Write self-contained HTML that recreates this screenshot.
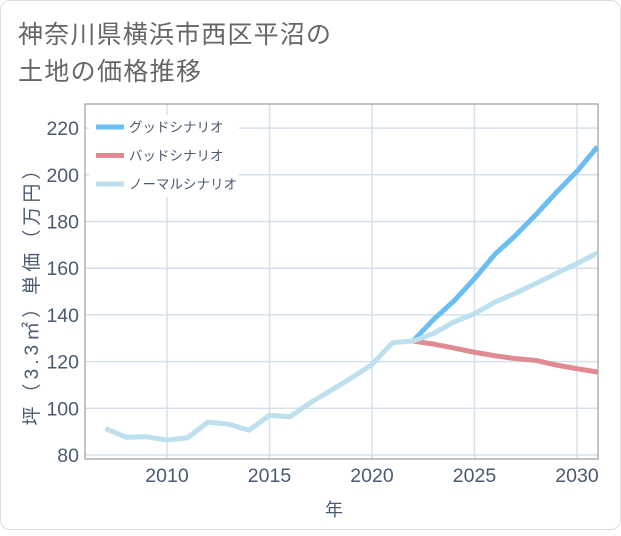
<!DOCTYPE html>
<html><head><meta charset="utf-8"><style>
body{margin:0;background:#fff;}
#wrap{position:absolute;left:0;top:0;width:619px;height:528px;border:1px solid #ddd;border-radius:10px;background:#fff;font-family:"Liberation Sans","Noto Sans CJK JP",sans-serif;}
svg text{font-family:"Liberation Sans","Noto Sans CJK JP",sans-serif;}
</style></head><body>
<div id="wrap">
<svg id="chart" width="621" height="530">
<text x="17" y="42" font-size="25" textLength="313" fill="#666">神奈川県横浜市西区平沼の</text>
<text x="17" y="79" font-size="25" textLength="183" fill="#666">土地の価格推移</text>
<g id="grid"></g><g id="axes"></g><g id="series"></g><g id="legend"></g>
<text x="333" y="515" font-size="18" fill="#4a5a70" text-anchor="middle">年</text>
<text transform="translate(37,292) rotate(-90)" font-size="19" textLength="265" fill="#4a5a70" text-anchor="middle">坪（3.3㎡）単価（万円）</text>
</svg></div>
<script>
const years=[2007,2008,2009,2010,2011,2012,2013,2014,2015,2016,2017,2018,2019,2020,2021,2022];
const history=[91.3,87.6,87.8,86.4,87.4,94.1,93.2,90.6,97,96.4,102.4,107.7,113,118.8,128.1,128.8];
const futureYears=[2022,2023,2024,2025,2026,2027,2028,2029,2030,2031];
const good=[128.8,138,146,155.5,166,174,183,192.5,201.5,212];
const bad=[128.8,127.5,125.8,124,122.5,121.3,120.5,118.5,117,115.5];
const normal=[128.8,132,137,140.5,145.5,149.3,153.5,157.8,162,166.5];
const yTicks=[80,100,120,140,160,180,200,220];
const xTicks=[2010,2015,2020,2025,2030];
const legendLabels=["グッドシナリオ","バッドシナリオ","ノーマルシナリオ"];
const NS="http://www.w3.org/2000/svg";
const L=84,R=597,T=103,B=458;
const X=y=>166+(y-2010)*20.5;
const Y=v=>454-(v-80)*46.7/20;
function mk(t,a,p){const e=document.createElementNS(NS,t);for(const k in a)e.setAttribute(k,a[k]);p.appendChild(e);return e;}
const grid=document.getElementById('grid'),axes=document.getElementById('axes'),ser=document.getElementById('series'),leg=document.getElementById('legend');
yTicks.forEach(v=>{
 const g=mk('line',{x1:L,x2:R,y1:Y(v),y2:Y(v),stroke:'#d5e0ec','stroke-width':1.5},grid);
 
 
 const t=mk('text',{x:78,y:Y(v)+7,'font-size':19.5,fill:'#4a5a70','text-anchor':'end'},axes);t.textContent=v;
 
 
});
xTicks.forEach(v=>{
 const g=mk('line',{x1:X(v),x2:X(v),y1:T,y2:B,stroke:'#d5e0ec','stroke-width':1.5},grid);
 
 
 const t=mk('text',{x:X(v),y:481,'font-size':19.5,fill:'#4a5a70','text-anchor':'middle'},axes);t.textContent=v;
 
 
});
const fr=mk('rect',{x:L,y:T,width:R-L,height:B-T,fill:'none',stroke:'#888','stroke-width':1},axes);


function line(xs,vs,c,name){const p=mk('polyline',{points:xs.map((x,i)=>X(x)+','+Y(vs[i])).join(' '),fill:'none',stroke:c,'stroke-width':5,'stroke-linejoin':'round'},ser);
 
 }
const clip=mk('clipPath',{id:'cp'},document.getElementById('chart'));mk('rect',{x:L,y:T,width:R-L,height:B-T},clip);
ser.setAttribute('clip-path','url(#cp)');
line(futureYears,bad,'#e08a92','bad-scenario-line');
line(futureYears,good,'#6bbef0','good-scenario-line');
line(futureYears,normal,'#bde0ee','normal-scenario-line');
line(years,history,'#bde0ee','history-line');
const lb=mk('rect',{x:88,y:114,width:150,height:82,fill:'#fff'},leg);


const cols=['#6bbef0','#e08a92','#bde0ee'];
legendLabels.forEach((s,i)=>{const y=126+i*28.5;
 const l=mk('line',{x1:95,x2:123,y1:y,y2:y,stroke:cols[i],'stroke-width':5},leg);
 
 
 const t=mk('text',{x:128,y:y+5,'font-size':13.5,fill:'#4a5a70'},leg);t.textContent=s;
 
 
});
</script></body></html>
